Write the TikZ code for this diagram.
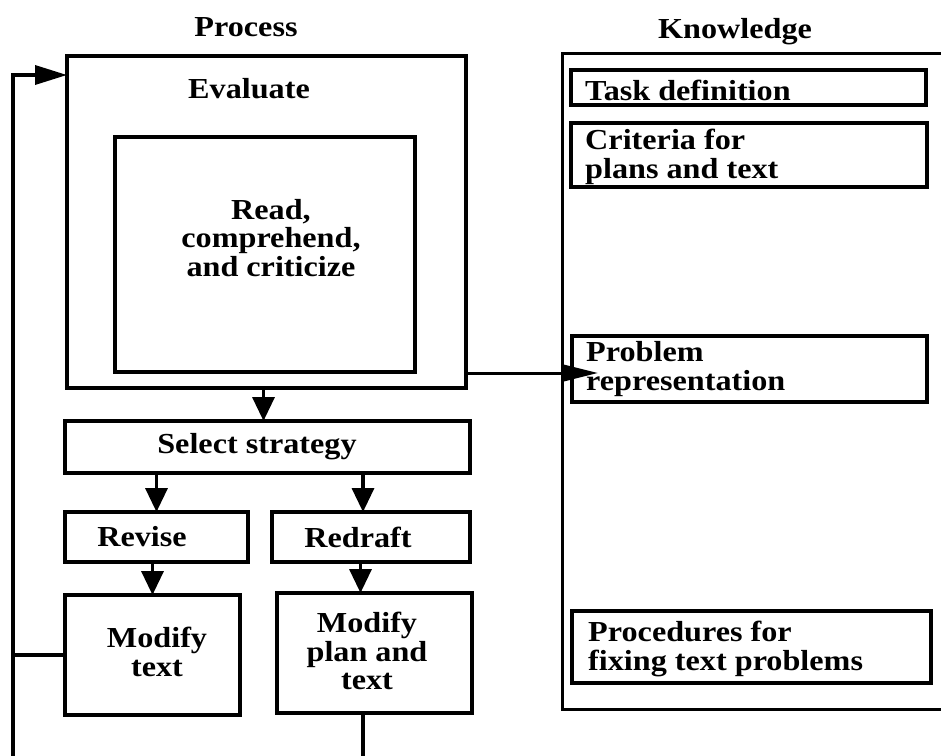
\documentclass[tikz,border=0pt]{standalone}
\usepackage{fontspec}
\setmainfont{Liberation Serif}
\usetikzlibrary{arrows.meta,calc}
\newcommand\diagfont{\fontsize{29pt}{28.5pt}\selectfont\bfseries}
\begin{document}
\begin{tikzpicture}[x=1pt,y=-1pt,
  txt/.style={inner sep=0pt, align=center, font=\diagfont, xscale=1.11},
  box/.style={draw, line width=3.5pt, rectangle, inner sep=0pt, outer sep=0pt},
  kbox/.style={draw, line width=3.5pt, rectangle, inner sep=0pt, outer sep=0pt, anchor=north west},
  ktxt/.style={inner sep=0pt, align=left, font=\diagfont, xscale=1.11, anchor=base west},
  line/.style={line width=3.5pt},
  arr/.style={line width=3.5pt, -{Triangle[length=24pt,width=22pt]}},
  arrlong/.style={line width=3.5pt, -{Triangle[length=32pt,width=19pt]}},
  arrthin/.style={line width=3pt, -{Triangle[length=34pt,width=16pt]}}]
\clip (0,0) rectangle (941,755);
\fill[white] (0,0) rectangle (941,755);
% titles
\node[txt] (proctitle) at (246,27) {Process};
\node[txt] (knowtitle) at (735,32) {Knowledge};
% process side
\node[box, minimum width=399pt, minimum height=332pt] (eval) at (266.5,222) {};
\node[txt] (evallabel) at (249,89) {Evaluate};
\node[box, minimum width=300pt, minimum height=235pt] (read) at (265,254.5) {};
\node[txt] (readtxt) at (271,238) {Read,\\comprehend,\\and criticize};
\node[box, minimum width=405pt, minimum height=52pt] (select) at (267.5,447) {};
\node[txt] (selecttxt) at (257,447) {Select strategy};
\node[box, minimum width=183pt, minimum height=50pt] (revise) at (156.5,537) {};
\node[txt] (revisetxt) at (142,537) {Revise};
\node[box, minimum width=198pt, minimum height=50pt] (redraft) at (371,537) {};
\node[txt] (redrafttxt) at (358,537) {Redraft};
\node[box, minimum width=175pt, minimum height=120pt] (modtext) at (152.5,655) {};
\node[txt] (modtexttxt) at (157,652) {Modify\\text};
\node[box, minimum width=195pt, minimum height=120pt] (modplan) at (374.5,653) {};
\node[txt] (modplantxt) at (367,651) {Modify\\plan and\\text};
% knowledge side
\node[draw, line width=3pt, rectangle, inner sep=0pt, outer sep=0pt, anchor=north west,
      minimum width=420pt, minimum height=656pt] (know) at (562,53) {};
\node[kbox, minimum width=355pt, minimum height=35pt] (task) at (571,70) {};
\node[ktxt] (tasktxt) at (585,100) {Task definition};
\node[kbox, minimum width=356pt, minimum height=64pt] (crit) at (571,123) {};
\node[ktxt] (crittxt) at (585,178) {Criteria for\\plans and text};
\node[kbox, minimum width=355pt, minimum height=66pt] (prob) at (572,336) {};
\node[ktxt] (probtxt) at (586,390) {Problem\\representation};
\node[kbox, minimum width=359pt, minimum height=72pt] (proc) at (572,611) {};
\node[ktxt] (proctxt) at (588,670) {Procedures for\\fixing text problems};
% coordinates for free ends
\coordinate (fbtop) at (13,75);
\coordinate (fbbot) at (13,765);
\coordinate (planbot) at (363,765);
\coordinate (probtip) at (598,373);
% connectors
\draw[arr] (eval.south -| select.north) ++(-4,0) coordinate (evs) -- (evs |- select.north);
\draw[arr] (revise.north |- select.south) -- (revise.north);
\draw[arr] ([xshift=-8pt]redraft.north |- select.south) -- ([xshift=-8pt]redraft.north);
\draw[arr] (modtext.north |- revise.south) -- (modtext.north);
\draw[arr] ([xshift=-14pt]modplan.north |- redraft.south) -- ([xshift=-14pt]modplan.north);
\draw[line] (planbot |- modplan.south) -- (planbot);
\draw[line] (modtext.west) -- (modtext.west -| fbtop);
\draw[arrlong] (fbbot) -- (fbtop) -- (fbtop -| eval.west);
\draw[arrthin] (eval.east |- probtip) -- (probtip);
\end{tikzpicture}
\end{document}
